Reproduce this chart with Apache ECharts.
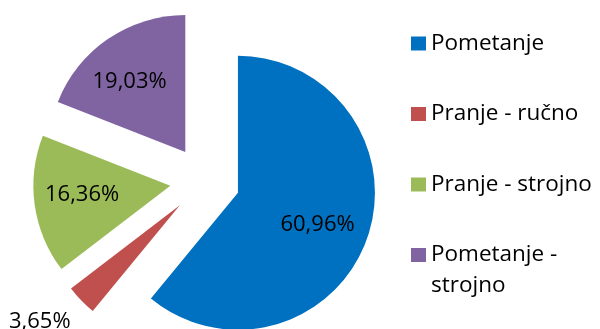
<!DOCTYPE html>
<html>
<head>
<meta charset="utf-8">
<script src="https://cdn.jsdelivr.net/npm/echarts@6/dist/echarts.min.js"></script>
<style>
  html, body { margin: 0; padding: 0; background: #ffffff; }
  #chart { width: 600px; height: 329px; }
</style>
</head>
<body>
<div id="chart"></div>
<script>
// Share of each cleaning method (percent)
const categories = ['Pometanje', 'Pranje - ručno', 'Pranje - strojno', 'Pometanje - strojno'];
const shares = [60.96, 3.65, 16.36, 19.03];
const colors = ['#0070C0', '#C0504D', '#9BBB59', '#8064A2'];

// Every slice is pulled out from the common centre along its mid angle, so each
// one is drawn by its own pie series centred at the slice's tip; the other
// slices of that series stay transparent.
const R = 137;
const PIE_CENTER = [205, 181];
const EXPLODE = 35;
// label spot: fraction of the radius and angle tweak (deg) from the slice's mid angle
const labelPlace = [
  { f: 0.605, da: 2.4 },
  { f: 1.309, da: 4.2 },
  { f: 0.626, da: 2 },
  { f: 0.634, da: -4.2 }
];

const total = shares.reduce((a, b) => a + b, 0);
const midAngles = [];
let acc = 0;
shares.forEach(v => { midAngles.push((acc + v / 2) / total * 360); acc += v; });

const rad = d => d * Math.PI / 180;
const sliceCenters = midAngles.map(a => [
  PIE_CENTER[0] + EXPLODE * Math.sin(rad(a)),
  PIE_CENTER[1] - EXPLODE * Math.cos(rad(a))
]);

const FONT = 'Open Sans';
const fmt = v => v.toFixed(2).replace('.', ',') + '%';

const series = categories.map((_, k) => ({
  type: 'pie',
  center: sliceCenters[k],
  radius: R,
  startAngle: 90,
  clockwise: true,
  avoidLabelOverlap: false,
  selectedMode: false,
  silent: true,
  animation: false,
  labelLine: { show: false },
  label: { show: false },
  emphasis: { disabled: true },
  data: categories.map((name, i) => ({
    name: name,
    value: shares[i],
    itemStyle: { color: i === k ? colors[i] : 'transparent', borderWidth: 0 },
    label: {
      show: i === k,
      position: 'inside',
      formatter: p => fmt(p.value),
      color: '#000000',
      fontFamily: FONT,
      fontSize: 22
    }
  })),
  // move the label from the default half-radius spot to its own place
  labelLayout: p => {
    const i = p.dataIndex;
    const m = rad(midAngles[i]);
    const t = rad(midAngles[i] + labelPlace[i].da);
    const tx = labelPlace[i].f * R * Math.sin(t), ty = -labelPlace[i].f * R * Math.cos(t);
    const sx = 0.5 * R * Math.sin(m), sy = -0.5 * R * Math.cos(m);
    return { dx: tx - sx, dy: ty - sy };
  }
}));

// the long entry wraps onto two lines; an empty line in front keeps its
// first line level with the colour box (text is centred on the box)
const WRAPPED = categories[categories.length - 1];

const chart = echarts.init(document.getElementById('chart'), null, { renderer: 'canvas' });
chart.setOption({
  backgroundColor: '#ffffff',
  animation: false,
  legend: {
    orient: 'vertical',
    left: 411,
    top: -3,
    padding: 0,
    itemGap: -22.5,
    itemWidth: 15,
    itemHeight: 14,
    icon: 'rect',
    selectedMode: false,
    formatter: name => (name === WRAPPED ? '\n' + name : name),
    textStyle: {
      fontFamily: FONT,
      fontSize: 22.5,
      color: '#000000',
      lineHeight: 31
    },
    data: categories.map((name, i) => ({
      name: name,
      itemStyle: { color: colors[i], opacity: 1 },
      textStyle: name === WRAPPED
        ? { width: 170, overflow: 'break', padding: 0 }
        : { padding: [31, 0, 31, 0] }
    }))
  },
  series: series
});
</script>
</body>
</html>
